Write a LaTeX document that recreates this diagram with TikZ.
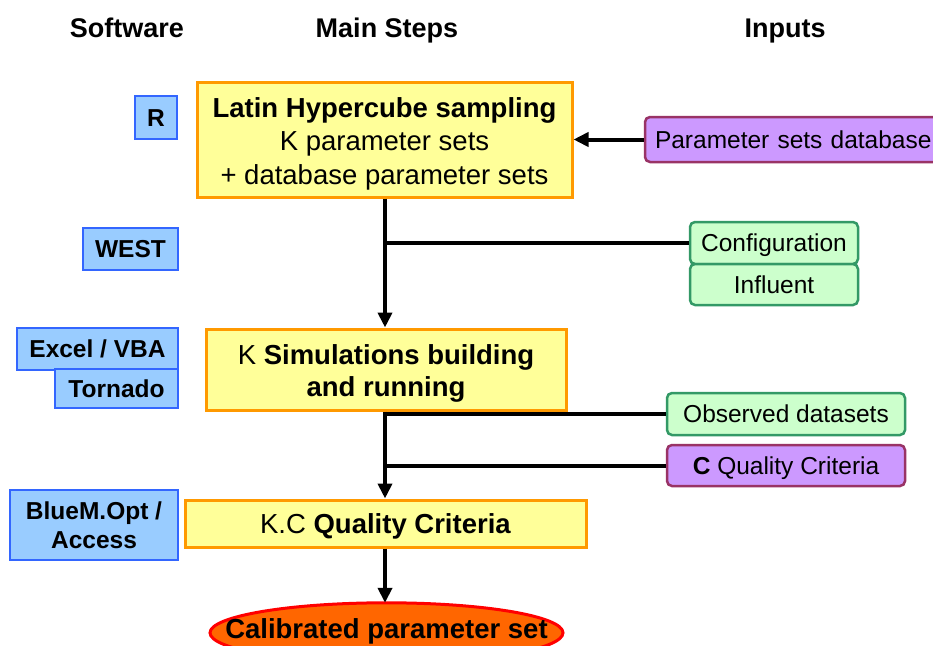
\documentclass[tikz,border=0pt]{standalone}
\usepackage{fontspec}
\setmainfont{Liberation Sans}
\usetikzlibrary{arrows.meta,backgrounds}
\definecolor{yfill}{HTML}{FFFF99}
\definecolor{yborder}{HTML}{FF9900}
\definecolor{bfill}{HTML}{99CCFF}
\definecolor{bborder}{HTML}{3366FF}
\definecolor{gfill}{HTML}{CCFFCC}
\definecolor{gborder}{HTML}{339966}
\definecolor{pfill}{HTML}{CC99FF}
\definecolor{pborder}{HTML}{993366}
\definecolor{ofill}{HTML}{FF6600}
\newcommand{\tpad}[1]{\rule{0pt}{#1}}
\tikzset{
  bigcap/.style={text height=19.7pt, text depth=0pt},
  smallcap/.style={text height=17.5pt, text depth=0pt},
  mainbox/.style={draw=yborder, fill=yfill, line width=3pt, inner sep=0pt, align=center, font=\fontsize{27.5}{32}\selectfont},
  softbox/.style={draw=bborder, fill=bfill, line width=2pt, inner sep=0pt, align=center, font=\fontsize{24.5}{29}\selectfont\bfseries},
  greenbox/.style={draw=gborder, fill=gfill, line width=2.5pt, rounded corners=5pt, inner sep=0pt, align=center, font=\fontsize{24.5}{29}\selectfont, smallcap},
  purplebox/.style={draw=pborder, fill=pfill, line width=2.5pt, rounded corners=5pt, inner sep=0pt, align=center, font=\fontsize{24.5}{29}\selectfont, smallcap},
  header/.style={font=\fontsize{27}{32}\selectfont\bfseries, text height=19.3pt, text depth=0pt, inner sep=0pt},
  conn/.style={line width=4pt, black},
  arr/.style={conn, -{Triangle[length=15pt,width=14pt]}},
}
\begin{document}
\begin{tikzpicture}[x=1pt,y=-1pt]
\clip (0,0) rectangle (933,645);

% headers
\node[header] (hsoft) at (127,27.5) {Software};
\node[header] (hmain) at (387,27.5) {Main Steps};
\node[header] (hinp) at (785,27.5) {Inputs};

% software boxes
\node[softbox, smallcap, minimum width=42pt, minimum height=43pt] (r) at (156,117.5) {R};
\node[softbox, smallcap, minimum width=95pt, minimum height=42pt] (west) at (130.5,249) {WEST};
\node[softbox, smallcap, minimum width=161pt, minimum height=42pt] (excel) at (97.5,348.5) {Excel / VBA};
\node[softbox, smallcap, minimum width=123pt, minimum height=39pt] (tornado) at (116.5,388.5) {Tornado};
\node[softbox, minimum width=168pt, minimum height=70pt] (bluem) at (94,525) {BlueM.Opt /\\Access};

% main steps
\node[mainbox, minimum width=375pt, minimum height=115pt, font=\fontsize{27.5}{33.5}\selectfont] (latin) at (384.5,139.5)
  {\tpad{28.5pt}\textbf{Latin Hypercube sampling}\\K parameter sets\\+ database parameter sets};
\node[mainbox, minimum width=360pt, minimum height=81pt] (ksim) at (386,369.5)
  {\tpad{27pt}K \textbf{Simulations building}\\\textbf{and running}};
\node[mainbox, bigcap, minimum width=401pt, minimum height=47pt] (kc) at (385.5,523.5)
  {K.C \textbf{Quality Criteria}};
\node[inner sep=0pt, font=\fontsize{27.5}{32}\selectfont\bfseries, bigcap, minimum height=51pt] (cal) at (386.5,628.5)
  {Calibrated parameter set};
\begin{scope}[on background layer]
  \fill[white] (0,0) rectangle (933,645);
  \draw[draw=red, fill=ofill, line width=3pt] (cal.north) ++(0,30) ellipse [x radius=176.5, y radius=30];
\end{scope}

% inputs
\node[purplebox, minimum width=300pt, minimum height=45pt, text width=280pt, align=left] (db) at (795,139.5) {Parameter sets database};
\node[greenbox, minimum width=168pt, minimum height=42pt] (conf) at (774,243) {Configuration};
\node[greenbox, minimum width=168pt, minimum height=41pt] (infl) at (774,284.5) {Influent};
\node[greenbox, minimum width=238pt, minimum height=42pt] (obs) at (786,414) {Observed datasets};
\node[purplebox, minimum width=238pt, minimum height=41pt] (cqc) at (786,465.5) {\textbf{C} Quality Criteria};

% spine
\coordinate (spine) at (385,0);

% connectors
\draw[arr] (db.west) -- (latin.east |- db.west);
\draw[arr] (spine |- latin.south) -- (spine |- ksim.north);
\draw[conn] (conf.west) -- (spine |- conf.west);
\draw[arr] (spine |- ksim.south) -- (spine |- kc.north);
\draw[conn] (obs.west) -- (spine |- obs.west);
\draw[conn] (cqc.west) -- (spine |- cqc.west);
\draw[arr] (spine |- kc.south) -- (spine |- cal.north);
\end{tikzpicture}
\end{document}
